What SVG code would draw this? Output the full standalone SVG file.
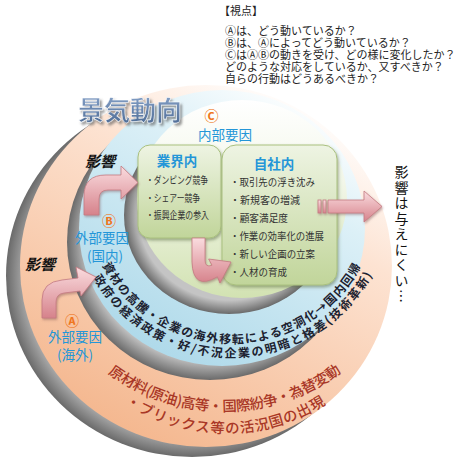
<svg xmlns="http://www.w3.org/2000/svg" width="460" height="462" viewBox="0 0 460 462">
<defs>
  <linearGradient id="gOrange" x1="0.75" y1="0.03" x2="0.25" y2="0.97">
    <stop offset="0" stop-color="#ffffff"/>
    <stop offset="0.3" stop-color="#fde3d2"/>
    <stop offset="1" stop-color="#f4b68d"/>
  </linearGradient>
  <linearGradient id="gBlue" x1="0.78" y1="0.02" x2="0.22" y2="0.98">
    <stop offset="0" stop-color="#ffffff"/>
    <stop offset="0.3" stop-color="#dcf0f7"/>
    <stop offset="1" stop-color="#acd8e9"/>
  </linearGradient>
  <linearGradient id="gInner" x1="0.5" y1="0" x2="0.5" y2="1">
    <stop offset="0" stop-color="#ffffff"/>
    <stop offset="0.4" stop-color="#f3f7ea"/>
    <stop offset="1" stop-color="#d2e2b2"/>
  </linearGradient>
  <radialGradient id="gRim" cx="0.5" cy="0.5" r="0.5">
    <stop offset="0.86" stop-color="#c4c4c4"/>
    <stop offset="1" stop-color="#6a6a6a"/>
  </radialGradient>
  <linearGradient id="gBox" x1="0" y1="0" x2="0" y2="1">
    <stop offset="0" stop-color="#eef4e3"/>
    <stop offset="1" stop-color="#c1d59a"/>
  </linearGradient>
  <linearGradient id="gPink" x1="0" y1="0" x2="0" y2="1">
    <stop offset="0" stop-color="#fadcdf"/>
    <stop offset="1" stop-color="#d6828b"/>
  </linearGradient>
  <linearGradient id="gTitle" x1="0" y1="0" x2="0" y2="1">
    <stop offset="0" stop-color="#8faad0"/>
    <stop offset="1" stop-color="#4a6892"/>
  </linearGradient>
  <filter id="fBox" x="-10%" y="-10%" width="125%" height="125%">
    <feDropShadow dx="1.2" dy="2" stdDeviation="1.5" flood-color="#52663a" flood-opacity="0.5"/>
  </filter>
  <filter id="fTitle" x="-10%" y="-20%" width="125%" height="150%">
    <feDropShadow dx="2" dy="2.5" stdDeviation="1" flood-color="#555555" flood-opacity="0.6"/>
  </filter>
  <filter id="fArrow" x="-20%" y="-20%" width="150%" height="150%">
    <feDropShadow dx="1" dy="1.5" stdDeviation="1" flood-color="#7a4a50" flood-opacity="0.45"/>
  </filter>
  <path id="pB1" d="M102.35,265.36 A146.56,146.56 0 0 0 360.9,266.7"/>
  <path id="pB2" d="M93.2,277.8 A160.56,160.56 0 0 0 372.3,275.1"/>
  <path id="pO1" d="M108.0,373.1 A194.5,194.5 0 0 0 341.3,372.1"/>
  <path id="pO2" d="M124.6,402.9 A183.5,183.5 0 0 0 325.5,404.1"/>
</defs>
<style>
  text{font-family:"Noto Sans CJK JP","Noto Sans CJK SC",sans-serif;}
  .blue{fill:#2496d8;font-weight:bold;font-size:13.5px}
  .blue2{fill:#2496d8;font-size:13.5px}
  .org{fill:#ef7620;font-size:14px;font-weight:bold}
  .item{font-size:10px;fill:#333333}
  .ring1{font-size:12px;font-weight:bold;fill:#1c2230}
  .ring2{font-size:14.5px;font-weight:500;fill:#a93726}
  .arrow{fill:url(#gPink);stroke:#c47a82;stroke-width:0.8;filter:url(#fArrow)}
  .eik{font-size:15px;font-weight:bold;font-style:italic;fill:#111111}
  .vp{font-size:11px;fill:#222222}
  .box{fill:url(#gBox);stroke:#a9c07e;stroke-width:1;filter:url(#fBox)}
</style>
<rect width="460" height="462" fill="#ffffff"/>

<g id="disc-outer">
  <ellipse cx="192" cy="276" rx="186" ry="181" fill="url(#gRim)"/>
  <ellipse cx="206" cy="266" rx="186" ry="181" fill="url(#gOrange)"/>
</g>
<g id="disc-middle">
  <ellipse cx="210" cy="242" rx="143" ry="138" fill="url(#gRim)"/>
  <ellipse cx="222" cy="228" rx="143" ry="138" fill="url(#gBlue)"/>
</g>
<g id="disc-inner">
  <ellipse cx="229" cy="215" rx="105" ry="99" fill="url(#gRim)"/>
  <ellipse cx="242" cy="199" rx="105" ry="99" fill="url(#gInner)"/>
</g>

<g id="title">
  <text x="78" y="119.5" font-size="26" font-weight="bold" fill="url(#gTitle)" stroke="#ffffff" stroke-width="0.5" filter="url(#fTitle)">景気動向</text>
</g>

<g id="viewpoints">
  <text class="vp" x="219" y="15">【視点】</text>
  <text class="vp" x="225" y="34.5">Ⓐは、どう動いているか？</text>
  <text class="vp" x="225" y="46.5">Ⓑは、Ⓐによってどう動いているか？</text>
  <text class="vp" x="225" y="58.5">ⒸはⒶⒷの動きを受け、どの様に変化したか？</text>
  <text class="vp" x="225" y="70.5">どのような対応をしているか、又すべきか？</text>
  <text class="vp" x="225" y="82.5">自らの行動はどうあるべきか？</text>
</g>

<g id="factor-internal">
  <text class="org" x="211.5" y="121" text-anchor="middle">Ⓒ</text>
  <text class="blue2" x="225" y="139.6" text-anchor="middle">内部要因</text>
</g>

<g id="factor-domestic">
  <text class="org" x="109" y="226" text-anchor="middle">Ⓑ</text>
  <text class="blue2" x="102" y="242.6" text-anchor="middle">外部要因</text>
  <text class="blue2" x="105" y="260.6" text-anchor="middle">(国内)</text>
  <text class="ring1">
    <textPath href="#pB1" textLength="316.7" lengthAdjust="spacing">資材の高騰・企業の海外移転による空洞化→国内回帰</textPath>
  </text>
  <text class="ring1">
    <textPath href="#pB2" textLength="338.2" lengthAdjust="spacing">政府の経済政策・好/不況企業の明暗と格差(技術革新)</textPath>
  </text>
</g>

<g id="factor-overseas">
  <text class="org" x="72" y="326" text-anchor="middle">Ⓐ</text>
  <text class="blue2" x="75" y="341.6" text-anchor="middle">外部要因</text>
  <text class="blue2" x="75" y="360.2" text-anchor="middle">(海外)</text>
  <text class="ring2">
    <textPath href="#pO1" textLength="250.2" lengthAdjust="spacing">原材料(原油)高等・国際紛争・為替変動</textPath>
  </text>
  <text class="ring2">
    <textPath href="#pO2" textLength="212.7" lengthAdjust="spacing">・ブリックス等の活況国の出現</textPath>
  </text>
</g>

<g id="box-gyokai">
  <rect class="box" x="138" y="145" width="83" height="93" rx="12"/>
  <text class="blue" x="177" y="166" text-anchor="middle">業界内</text>
  <text class="item" x="146" y="183.8" textLength="62" lengthAdjust="spacingAndGlyphs">・ダンピング競争</text>
  <text class="item" x="146" y="201.8" textLength="54" lengthAdjust="spacingAndGlyphs">・シェアー競争</text>
  <text class="item" x="146" y="218.8" textLength="63" lengthAdjust="spacingAndGlyphs">・振興企業の参入</text>
</g>

<g id="box-jisha">
  <rect class="box" x="222" y="145" width="115" height="140" rx="14"/>
  <text class="blue" x="274" y="169" text-anchor="middle">自社内</text>
  <text class="item" x="230" y="186.3" textLength="85" lengthAdjust="spacingAndGlyphs">・取引先の浮き沈み</text>
  <text class="item" x="230" y="204.3" textLength="70" lengthAdjust="spacingAndGlyphs">・新規客の増減</text>
  <text class="item" x="230" y="222.3" textLength="58" lengthAdjust="spacingAndGlyphs">・顧客満足度</text>
  <text class="item" x="230" y="240.3" textLength="94" lengthAdjust="spacingAndGlyphs">・作業の効率化の進展</text>
  <text class="item" x="230" y="258.3" textLength="85" lengthAdjust="spacingAndGlyphs">・新しい企画の立案</text>
  <text class="item" x="230" y="276.3" textLength="57" lengthAdjust="spacingAndGlyphs">・人材の育成</text>
</g>

<g id="connectors">
  <path class="arrow" d="M84,215 L84,196 Q84,175 106,175 L121,175 L121,166 L138,182.5 L121,199 L121,190 L108,190 Q99,190 99,199 L99,215 Z"/>
  <path class="arrow" d="M42,318 L42,300 Q42,282 62,280 L78,278 L76,267 L96,277 L81,296 L80,291 L64,293 Q56,294 56,302 L56,318 Z"/>
  <path class="arrow" d="M192,238 L205,238 L205,260 Q205,268 212,265.2 L208.6,259 L231,262 L220,283 L217.4,276.8 Q193,291 192,262 Z"/>
  <g class="arrow">
    <rect x="318" y="200" width="3" height="13"/>
    <rect x="323" y="200" width="3" height="13"/>
    <path d="M328,200 L364,200 L364,191 L382,206.5 L364,222 L364,213 L328,213 Z"/>
  </g>
</g>

<g id="influence-labels">
  <text class="eik" x="85" y="166.5">影響</text>
  <text class="eik" x="25" y="270">影響</text>
</g>

<g id="result">
  <text x="401.5" y="165" font-size="14" fill="#111111" style="writing-mode:vertical-rl" letter-spacing="1.5">影響は与えにくい…</text>
</g>
</svg>
